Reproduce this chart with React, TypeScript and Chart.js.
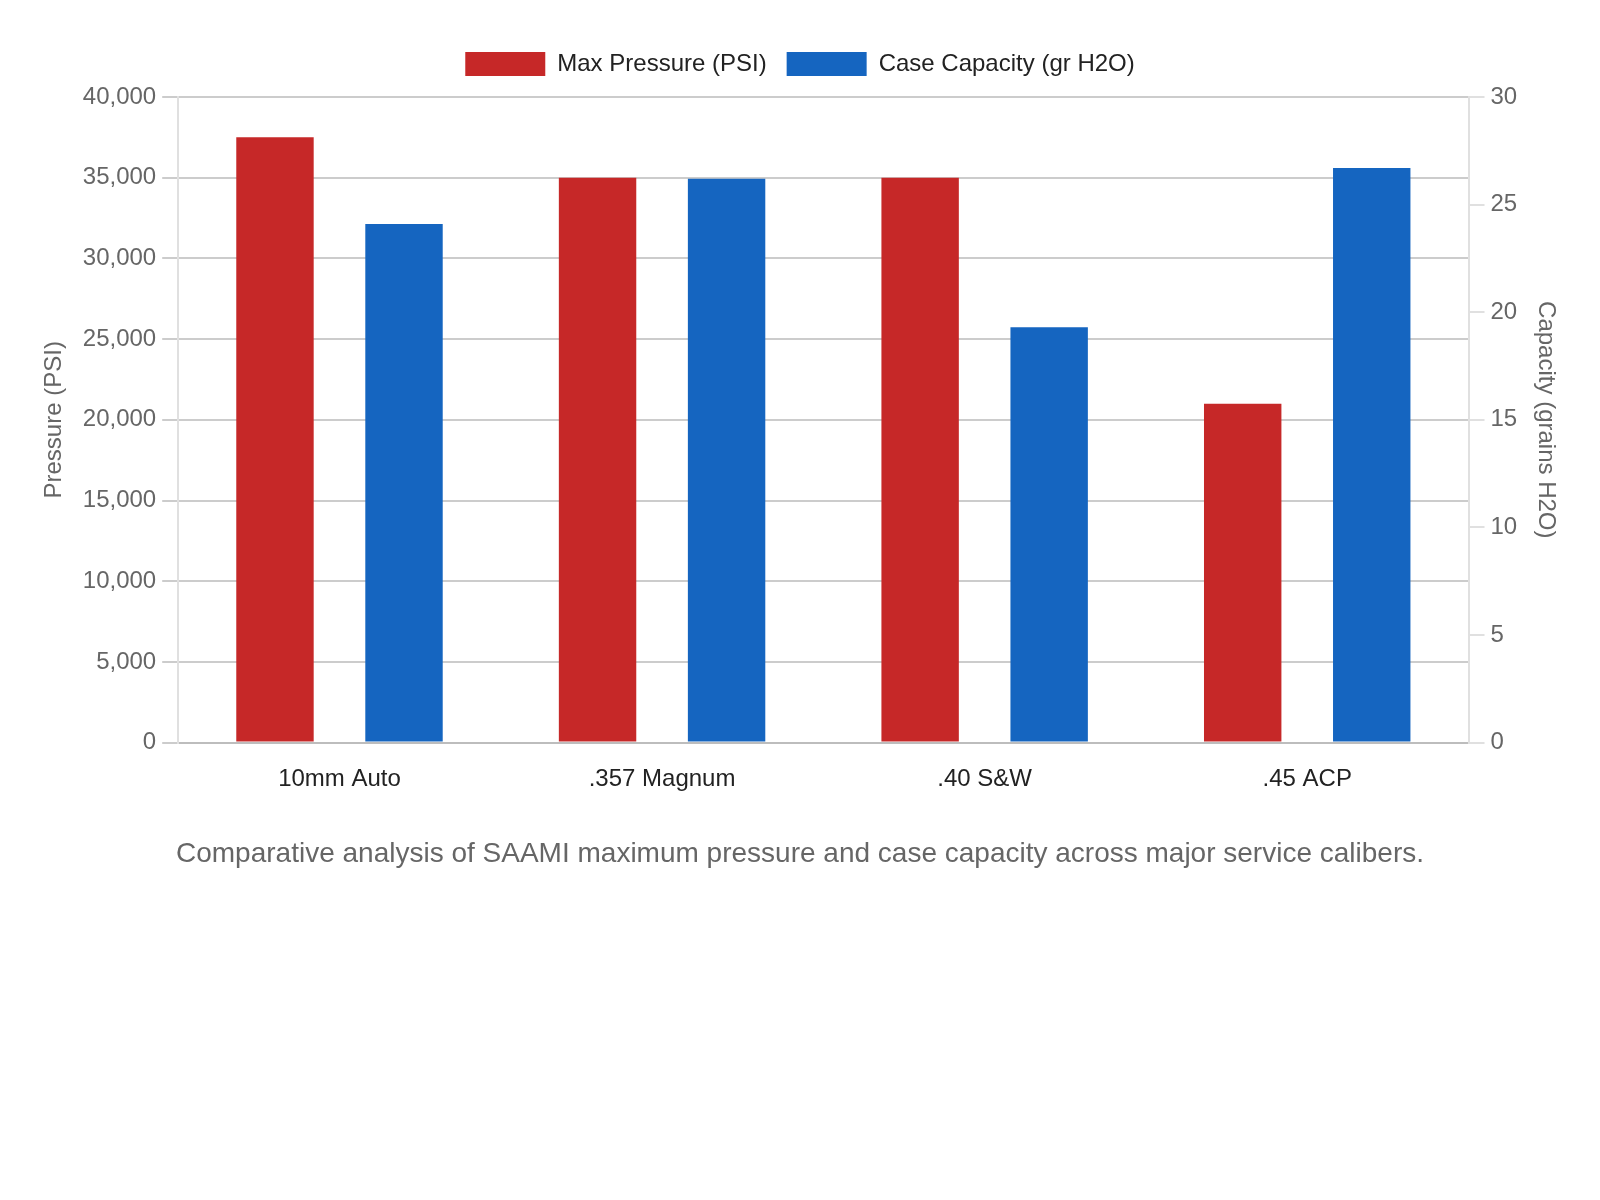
import React, { useEffect, useRef } from "react";
import { Chart, registerables } from "chart.js";

Chart.register(...registerables);

const categories = ["10mm Auto", ".357 Magnum", ".40 S&W", ".45 ACP"];
const maxPressure = [37500, 35000, 35000, 21000];
const caseCapacity = [24.1, 26.2, 19.3, 26.7];
const seriesLabels = ["Max Pressure (PSI)", "Case Capacity (gr H2O)"];
const caption =
  "Comparative analysis of SAAMI maximum pressure and case capacity across major service calibers.";

const FONT = "'Liberation Sans', Arial, Helvetica, sans-serif";

const legendGap = {
  id: "legendGap",
  beforeInit(chart: any) {
    const legend = chart.legend;
    if (!legend) return;
    const origFit = legend.fit;
    legend.fit = function () {
      origFit.call(this);
      this.height += 11;
    };
  },
};

export default function App() {
  const ref = useRef<HTMLCanvasElement | null>(null);

  useEffect(() => {
    if (!ref.current) return;
    const chart = new Chart(ref.current, {
      type: "bar",
      data: {
        labels: categories,
        datasets: [
          {
            label: seriesLabels[0],
            data: maxPressure,
            backgroundColor: "#C62828",
            yAxisID: "y",
            barPercentage: 0.6,
            categoryPercentage: 0.8,
          },
          {
            label: seriesLabels[1],
            data: caseCapacity,
            backgroundColor: "#1565C0",
            yAxisID: "y1",
            barPercentage: 0.6,
            categoryPercentage: 0.8,
          },
        ],
      },
      plugins: [legendGap],
      options: {
        animation: false,
        responsive: true,
        maintainAspectRatio: false,
        devicePixelRatio: 1,
        layout: { padding: 16 },
        font: { family: FONT, size: 24 },
        plugins: {
          legend: {
            position: "top",
            labels: {
              boxWidth: 80,
              boxHeight: 24,
              padding: 20,
              color: "#222",
              font: { family: FONT, size: 24 },
            },
          },
          title: {
            display: true,
            position: "bottom",
            text: caption,
            color: "#666",
            font: { family: FONT, size: 28, weight: "normal" },
            padding: { top: 38, bottom: 20 },
          },
          tooltip: { enabled: false },
        },
        scales: {
          x: {
            grid: { display: false, tickLength: 16 },
            border: { display: true, color: "#bdbdbd", width: 2 },
            ticks: { color: "#222", padding: 6, font: { family: FONT, size: 24 } },
          },
          y: {
            position: "left",
            min: 0,
            max: 40000,
            ticks: { stepSize: 5000, color: "#666", padding: 6, font: { family: FONT, size: 24 } },
            grid: { color: "#cccccc", lineWidth: 2, tickLength: 16 },
            border: { color: "#e0e0e0", width: 2 },
            title: {
              display: true,
              text: "Pressure (PSI)",
              color: "#666",
              font: { family: FONT, size: 24 },
              padding: { top: 8, bottom: 8 },
            },
          },
          y1: {
            position: "right",
            min: 0,
            max: 30,
            ticks: { stepSize: 5, color: "#666", padding: 6, font: { family: FONT, size: 24 } },
            grid: { drawOnChartArea: false, color: "#e0e0e0", lineWidth: 2, tickLength: 16 },
            border: { color: "#e0e0e0", width: 2 },
            title: {
              display: true,
              text: "Capacity (grains H2O)",
              color: "#666",
              font: { family: FONT, size: 24 },
              padding: { top: 8, bottom: 8 },
            },
          },
        },
      },
    });
    return () => chart.destroy();
  }, []);

  return (
    <div style={{ padding: 8 }}>
      <div style={{ position: "relative", width: 1568, height: 891 }}>
        <canvas ref={ref} />
      </div>
    </div>
  );
}
